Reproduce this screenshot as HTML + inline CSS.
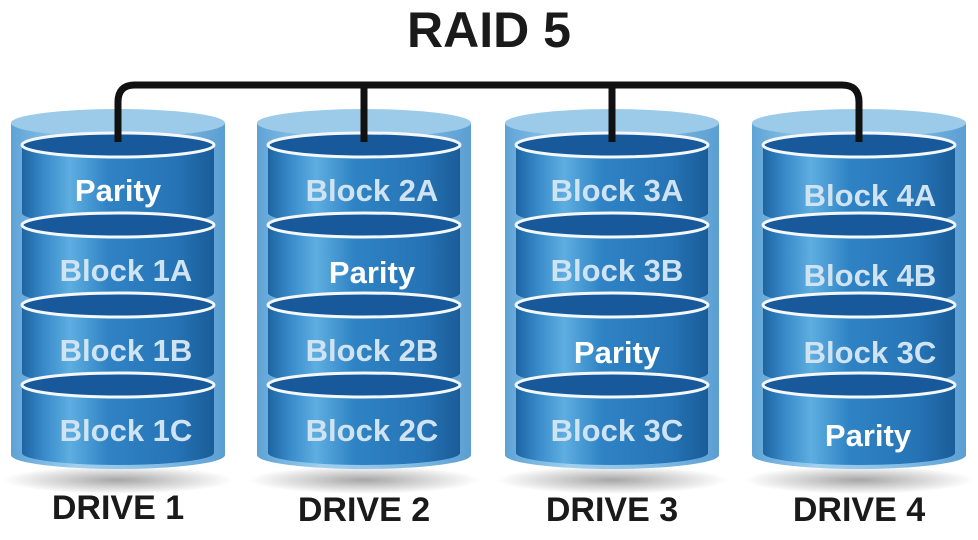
<!DOCTYPE html>
<html><head><meta charset="utf-8"><style>
html,body{margin:0;padding:0;background:#fff;}
svg{display:block;}
text{font-family:"Liberation Sans",Arial,sans-serif;font-weight:bold;text-anchor:middle;}
</style></head><body>
<svg width="978" height="540" viewBox="0 0 978 540" xmlns="http://www.w3.org/2000/svg">
<defs>
<linearGradient id="body" x1="0" x2="1" y1="0" y2="0">
<stop offset="0" stop-color="#1d64a2"/>
<stop offset="0.12" stop-color="#3a8ccb"/>
<stop offset="0.25" stop-color="#5eaee0"/>
<stop offset="0.45" stop-color="#2f83c4"/>
<stop offset="0.8" stop-color="#2674b6"/>
<stop offset="1" stop-color="#1a5c98"/>
</linearGradient>
<linearGradient id="outer" x1="0" x2="1" y1="0" y2="0">
<stop offset="0" stop-color="#5ea3d6"/>
<stop offset="0.3" stop-color="#9fd0ef"/>
<stop offset="0.7" stop-color="#84bde4"/>
<stop offset="1" stop-color="#5a9ed2"/>
</linearGradient>
<radialGradient id="shadow" cx="0.5" cy="0.5" r="0.5">
<stop offset="0" stop-color="#000" stop-opacity="0.35"/>
<stop offset="1" stop-color="#000" stop-opacity="0"/>
</radialGradient>
<g id="disk">
<path d="M-96,0 L-96,68 A96,12 0 0 0 96,68 L96,0 Z" fill="url(#body)"/>
<ellipse cx="0" cy="0" rx="96" ry="12" fill="#17599a" stroke="#f4f8fc" stroke-width="3"/>
</g>
<g id="drive">
<ellipse cx="0" cy="335" rx="115" ry="14" fill="url(#shadow)"/>
<path d="M-107,-22 L-107,310 A107,14 0 0 0 107,310 L107,-22 Z" fill="url(#outer)"/>
<ellipse cx="0" cy="-22" rx="107" ry="14" fill="#9ccbea"/>
<use href="#disk" y="0"/>
<use href="#disk" y="80"/>
<use href="#disk" y="160"/>
<use href="#disk" y="240"/>
</g>
</defs>
<text x="489" y="47" font-size="50" fill="#1a1a1a">RAID 5</text>

<use href="#drive" x="118" y="145"/>
<use href="#drive" x="364" y="145"/>
<use href="#drive" x="612" y="145"/>
<use href="#drive" x="859" y="145"/>

<path d="M118,142 V102 Q118,85 135,85 H842 Q859,85 859,102 V142 M364,85 V142 M612,85 V142" fill="none" stroke="#111" stroke-width="7"/>

<g font-size="31">
<text x="118" y="201" fill="#fff">Parity</text>
<text x="126" y="281" fill="#cfe3f3">Block 1A</text>
<text x="126" y="361" fill="#cfe3f3">Block 1B</text>
<text x="126" y="441" fill="#cfe3f3">Block 1C</text>

<text x="372" y="201" fill="#cfe3f3">Block 2A</text>
<text x="372" y="283" fill="#fff">Parity</text>
<text x="372" y="361" fill="#cfe3f3">Block 2B</text>
<text x="372" y="441" fill="#cfe3f3">Block 2C</text>

<text x="617" y="201" fill="#cfe3f3">Block 3A</text>
<text x="617" y="281" fill="#cfe3f3">Block 3B</text>
<text x="617" y="363" fill="#fff">Parity</text>
<text x="617" y="441" fill="#cfe3f3">Block 3C</text>

<text x="870" y="206" fill="#cfe3f3">Block 4A</text>
<text x="870" y="286" fill="#cfe3f3">Block 4B</text>
<text x="870" y="363" fill="#cfe3f3">Block 3C</text>
<text x="868" y="446" fill="#fff">Parity</text>
</g>

<g font-size="34" fill="#1a1a1a">
<text x="118" y="519">DRIVE 1</text>
<text x="364" y="521">DRIVE 2</text>
<text x="612" y="521">DRIVE 3</text>
<text x="859" y="521">DRIVE 4</text>
</g>
</svg>
</body></html>
